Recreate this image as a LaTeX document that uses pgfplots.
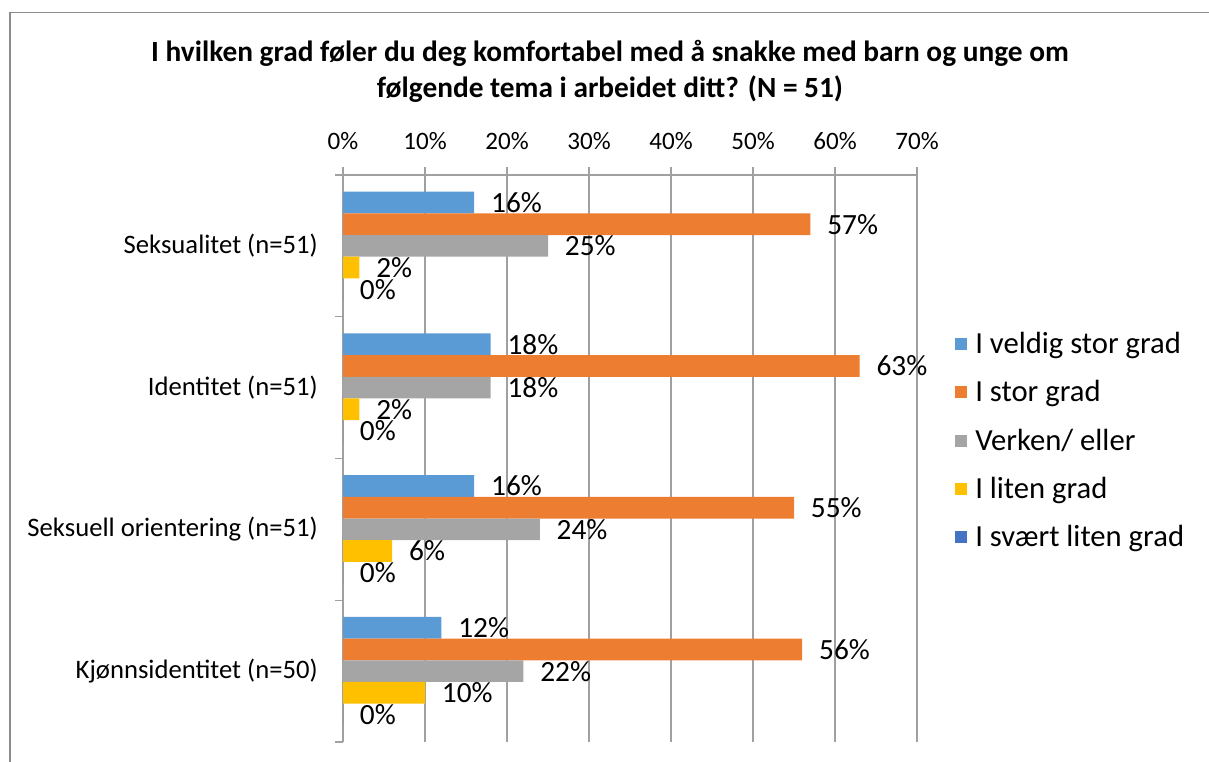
\documentclass[border=0pt]{standalone}
\usepackage{fontspec}
\setmainfont{Carlito}
\usepackage{pgfplots}
\pgfplotsset{compat=1.18}
\definecolor{c1}{HTML}{5B9BD5}
\definecolor{c2}{HTML}{ED7D31}
\definecolor{c3}{HTML}{A5A5A5}
\definecolor{c4}{HTML}{FFC000}
\definecolor{c5}{HTML}{4472C4}
\definecolor{gridgray}{HTML}{A0A0A0}
\definecolor{framegray}{HTML}{8C8C8C}
\newcommand{\catfont}{\fontsize{20}{24}\selectfont}
\newcommand{\tickfont}{\fontsize{18.8}{22}\selectfont}
\newcommand{\valfont}{\fontsize{22}{26}\selectfont}
\newcommand{\legfont}{\fontsize{23}{27}\selectfont}
\begin{document}
\begin{tikzpicture}
\useasboundingbox (0,0) rectangle (906.75pt,-571.5pt);
\draw[color=framegray, line width=1.1pt] (7.5pt,-571.5pt) -- (7.5pt,-9.4pt) -- (906.75pt,-9.4pt);
\node[font=\fontsize{22}{27}\selectfont\bfseries, align=center, anchor=center] at (457.5pt,-53.5pt)
  {I hvilken grad føler du deg komfortabel med å snakke med barn og unge om\\følgende tema i arbeidet ditt? (N = 51)};
\begin{axis}[
  at={(257.25pt,-556.5pt)}, anchor=south west,
  scale only axis, width=430.5pt, height=425.25pt,
  xbar, bar width=0.153,
  xmin=0, xmax=70, ymin=-0.5, ymax=3.5,
  axis x line*=top, axis y line*=left,
  axis line style={-, color=gridgray, line width=0.9pt},
  xtick={0,10,...,70},
  xticklabels={0\%,10\%,20\%,30\%,40\%,50\%,60\%,70\%},
  xmajorgrids, grid style={color=gridgray, line width=0.9pt},
  ytick={-0.5,0.5,1.5,2.5,3.5}, yticklabels={,,,,},
  extra y ticks={0,1,2,3},
  extra y tick labels={Kjønnsidentitet (n=50),Seksuell orientering (n=51),Identitet (n=51),Seksualitet (n=51)},
  extra y tick style={major tick length=0pt, grid=none, yticklabel style={inner sep=0pt, xshift=-18.75pt, font=\catfont}},
  tick align=outside, major tick length=6pt,
  tick style={color=gridgray, line width=0.9pt},
  xticklabel style={inner sep=0pt, yshift=13pt, font=\tickfont},
  point meta=x,
  nodes near coords={\pgfmathprintnumber[assume math mode=true]{\pgfplotspointmeta}\%},
  every node near coord/.append style={anchor=west, xshift=12.5pt, inner sep=0pt, font=\valfont, text=black},
  legend style={at={(1.0662,0.713)}, anchor=north west, draw=none, fill=none, inner sep=0pt,
    row sep=21.75pt, font=\legfont,
    nodes={inner sep=0pt, text height=10pt, text depth=3pt, anchor=west},
    /tikz/column 1/.style={column sep=6pt}},
  legend cell align=left,
  legend image code/.code={\fill[#1] (0pt,-1pt) rectangle (9pt,8pt);},
]
\addplot[fill=c1, draw=none, bar shift=0.306] coordinates {(16,3) (18,2) (16,1) (12,0)};
\addplot[fill=c2, draw=none, bar shift=0.153] coordinates {(57,3) (63,2) (55,1) (56,0)};
\addplot[fill=c3, draw=none, bar shift=0] coordinates {(25,3) (18,2) (24,1) (22,0)};
\addplot[fill=c4, draw=none, bar shift=-0.153] coordinates {(2,3) (2,2) (6,1) (10,0)};
\addplot[fill=c5, draw=none, bar shift=-0.306] coordinates {(0,3) (0,2) (0,1) (0,0)};
\legend{I veldig stor grad, I stor grad, Verken/ eller, I liten grad, I svært liten grad}
\end{axis}
\end{tikzpicture}
\end{document}
